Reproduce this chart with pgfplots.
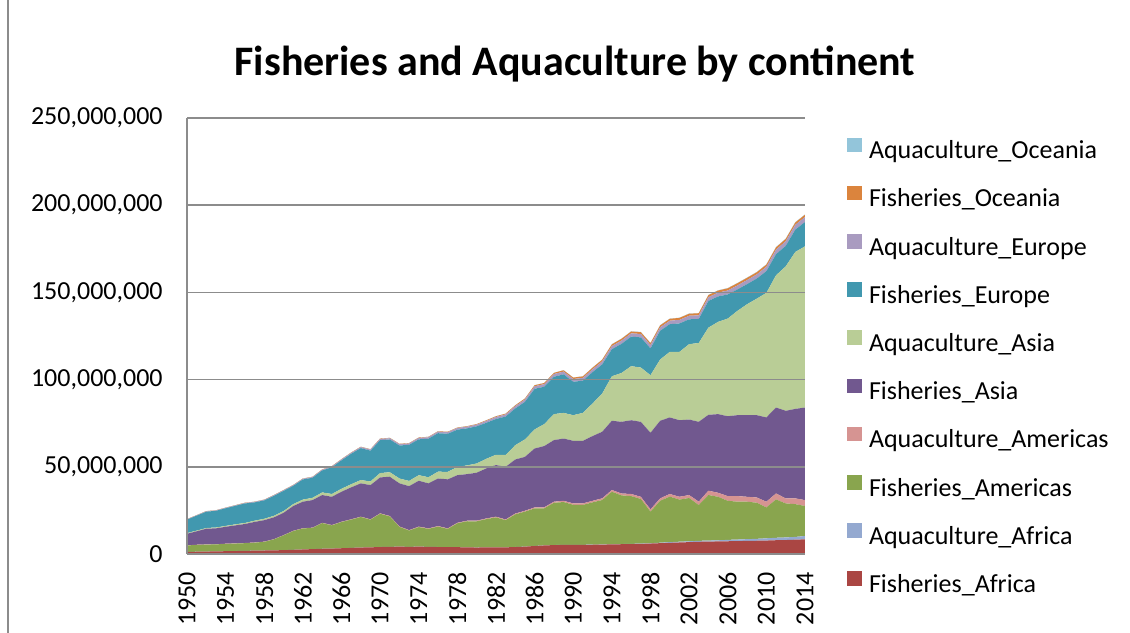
\documentclass[border=0pt]{standalone}
\usepackage{fontspec}
\setmainfont{Carlito}
\usepackage{pgfplots}
\pgfplotsset{compat=1.18}
\usepackage{pgfplotstable}

\definecolor{fafr}{HTML}{AA4643}
\definecolor{aafr}{HTML}{94A9D0}
\definecolor{famr}{HTML}{89A54E}
\definecolor{aamr}{HTML}{D69492}
\definecolor{fasi}{HTML}{71588F}
\definecolor{aasi}{HTML}{B9CD96}
\definecolor{feur}{HTML}{4198AF}
\definecolor{aeur}{HTML}{A99BC0}
\definecolor{foce}{HTML}{DB843D}
\definecolor{aoce}{HTML}{93C5DA}
\definecolor{gridgray}{HTML}{8C8C8C}

% values in millions of tonnes
\pgfplotstableread{
year FAf AAf FAm AAm FAs AAs FEu AEu FOc AOc
1950 1.20 0.01 3.69 0.10 6.60 0.40 7.69 0.20 0.10 0.01
1951 1.30 0.01 3.89 0.10 7.70 0.40 8.58 0.21 0.10 0.01
1952 1.40 0.01 3.99 0.10 9.00 0.40 9.37 0.22 0.10 0.01
1953 1.50 0.01 3.99 0.10 9.10 0.50 9.55 0.23 0.11 0.01
1954 1.60 0.01 4.19 0.10 9.70 0.50 10.14 0.24 0.11 0.01
1955 1.70 0.01 4.28 0.11 10.30 0.60 10.62 0.26 0.11 0.01
1956 1.80 0.01 4.38 0.11 10.90 0.60 11.19 0.28 0.12 0.01
1957 1.90 0.01 4.58 0.11 11.80 0.70 10.47 0.30 0.12 0.01
1958 2.00 0.01 4.97 0.12 12.30 0.80 10.54 0.32 0.13 0.01
1959 2.10 0.01 6.27 0.12 12.50 0.90 11.42 0.34 0.13 0.01
1960 2.20 0.01 8.46 0.13 12.80 1.00 11.59 0.36 0.14 0.01
1961 2.40 0.01 10.75 0.14 14.20 1.10 10.47 0.38 0.14 0.01
1962 2.60 0.01 12.04 0.15 15.20 1.20 11.54 0.40 0.15 0.01
1963 2.80 0.01 12.14 0.15 15.80 1.30 11.52 0.42 0.15 0.01
1964 3.00 0.01 14.73 0.16 15.90 1.50 12.58 0.45 0.16 0.01
1965 3.10 0.01 13.32 0.17 16.20 1.60 15.35 0.48 0.16 0.01
1966 3.30 0.01 15.01 0.18 17.20 1.70 16.30 0.52 0.17 0.01
1967 3.50 0.01 16.20 0.19 18.30 1.80 17.46 0.56 0.17 0.01
1968 3.70 0.01 17.49 0.20 19.10 1.90 18.31 0.60 0.18 0.01
1969 3.80 0.01 15.88 0.21 19.60 2.10 17.66 0.65 0.18 0.01
1970 4.00 0.01 19.06 0.23 20.60 2.50 18.90 0.70 0.19 0.01
1971 4.10 0.01 17.45 0.24 22.50 2.60 18.76 0.73 0.20 0.01
1972 4.20 0.01 11.34 0.25 24.70 2.80 18.93 0.76 0.20 0.01
1973 4.10 0.01 9.33 0.26 25.20 3.00 20.69 0.79 0.21 0.01
1974 4.20 0.01 11.22 0.27 26.30 3.20 20.55 0.82 0.22 0.01
1975 4.10 0.01 10.31 0.28 25.80 3.50 22.11 0.85 0.23 0.01
1976 4.00 0.01 11.70 0.29 27.30 3.90 22.07 0.88 0.24 0.01
1977 3.90 0.01 10.49 0.30 28.10 4.30 21.83 0.91 0.25 0.01
1978 3.90 0.01 13.68 0.31 27.30 4.70 21.39 0.94 0.26 0.01
1979 3.80 0.01 14.97 0.32 26.70 5.00 21.24 0.97 0.28 0.01
1980 3.70 0.01 15.04 0.35 27.50 5.30 21.29 1.00 0.30 0.01
1981 3.80 0.02 16.20 0.38 28.70 5.50 20.65 1.08 0.35 0.02
1982 3.80 0.02 17.18 0.40 29.60 5.90 20.52 1.16 0.40 0.02
1983 3.80 0.02 15.56 0.42 30.20 6.80 21.99 1.24 0.45 0.02
1984 4.00 0.02 18.73 0.45 31.00 8.20 21.06 1.32 0.50 0.02
1985 4.20 0.03 20.07 0.50 30.90 10.00 21.53 1.40 0.55 0.02
1986 4.60 0.03 21.52 0.55 33.80 10.90 23.32 1.45 0.60 0.03
1987 4.90 0.03 21.27 0.60 35.10 12.60 21.42 1.50 0.65 0.03
1988 5.10 0.04 24.21 0.65 35.30 14.90 21.42 1.55 0.70 0.03
1989 5.20 0.05 24.55 0.70 35.70 14.70 22.11 1.60 0.75 0.04
1990 5.20 0.06 22.94 0.80 35.90 14.70 19.15 1.60 0.80 0.05
1991 5.20 0.07 22.88 0.85 35.90 16.00 18.50 1.60 0.85 0.05
1992 5.30 0.08 24.22 0.90 37.10 18.70 17.99 1.65 0.90 0.06
1993 5.40 0.09 25.46 0.95 38.20 21.90 16.73 1.75 0.95 0.07
1994 5.50 0.10 30.10 1.00 39.70 25.50 15.52 1.80 1.00 0.08
1995 5.60 0.11 27.89 1.10 41.10 28.00 16.71 1.90 1.00 0.09
1996 5.70 0.13 27.37 1.20 42.30 31.00 16.95 1.90 1.05 0.10
1997 5.80 0.16 25.59 1.25 43.00 31.10 17.30 1.95 1.05 0.10
1998 6.00 0.20 18.10 1.30 43.90 33.00 15.40 1.95 1.05 0.10
1999 6.20 0.28 24.02 1.40 44.50 35.10 16.49 2.00 1.10 0.11
2000 6.40 0.40 26.10 1.50 43.90 37.60 15.88 2.00 1.10 0.12
2001 6.60 0.45 24.15 1.60 43.90 39.20 16.28 2.05 1.15 0.12
2002 6.80 0.50 24.80 1.70 43.30 43.20 14.27 2.05 1.15 0.13
2003 7.00 0.55 20.55 1.90 45.80 45.20 13.77 2.10 1.20 0.13
2004 7.10 0.60 26.10 2.50 43.50 50.00 15.31 2.15 1.20 0.14
2005 7.20 0.65 24.95 2.30 45.10 52.90 14.56 2.20 1.20 0.14
2006 7.30 0.80 22.40 2.70 45.80 56.00 13.85 2.25 1.25 0.15
2007 7.40 0.90 21.70 3.20 46.40 59.80 12.30 2.30 1.25 0.15
2008 7.50 1.00 21.50 2.80 46.80 63.60 11.54 2.35 1.25 0.16
2009 7.60 1.10 20.70 3.00 47.20 66.80 11.49 2.40 1.25 0.16
2010 7.70 1.30 17.70 3.30 48.30 71.40 12.48 2.50 1.25 0.17
2011 7.90 1.40 22.00 3.40 49.30 75.80 12.13 2.60 1.30 0.17
2012 8.00 1.50 19.50 2.90 50.20 82.80 11.73 2.70 1.30 0.17
2013 8.20 1.60 18.80 3.30 51.30 90.00 12.82 2.80 1.30 0.18
2014 8.40 1.90 17.20 3.40 53.10 92.40 13.92 2.90 1.30 0.18
}\fishdata

\begin{document}
\begin{tikzpicture}[x=1pt,y=1pt]
\useasboundingbox (0,0) rectangle (565,316);
\draw[gridgray, line width=0.7pt] (4,-2) -- (4,318);
\node[anchor=base, font=\bfseries\fontsize{21}{25}\selectfont] at (287.5,278) {Fisheries and Aquaculture by continent};
\begin{axis}[
  at={(93.5pt,39pt)}, anchor=south west,
  scale only axis, width=309pt, height=218pt,
  xmin=1950, xmax=2014, ymin=0, ymax=250,
  /pgf/number format/assume math mode=true,
  /pgf/number format/1000 sep={},
  xtick={1950,1954,...,2014},
  ytick={0,50,...,250},
  yticklabels={0,{50,000,000},{100,000,000},{150,000,000},{200,000,000},{250,000,000}},
  ticklabel style={font=\fontsize{13}{15}\selectfont},
  xticklabel style={yshift=-9pt, rotate=90, anchor=east, inner sep=0pt},
  yticklabel style={xshift=-12pt, anchor=east, inner sep=0pt},
  axis lines*=left,
  axis line style={draw=gridgray, line width=0.8pt},
  ymajorgrids,
  grid style={draw=gridgray, line width=0.8pt},
  tick style={draw=none},
  major tick length=0pt,
  stack plots=y,
  area style,
  legend image code/.code={\fill[#1] (0pt,0.3pt) rectangle (7.3pt,7.6pt);},
  reverse legend,
  legend cell align=left,
  legend style={at={(1.068,0.956)}, anchor=north west, draw=none, fill=none,
    inner sep=0pt, row sep=10.5pt, column sep=3.5pt,
    font=\fontsize{13}{15}\selectfont,
    nodes={inner sep=0pt, text height=9pt, text depth=3pt}},
]
\addplot[fill=fafr, draw=none] table[x=year, y=FAf]{\fishdata} \closedcycle;
\addlegendentry{Fisheries\_Africa}
\addplot[fill=aafr, draw=none] table[x=year, y=AAf]{\fishdata} \closedcycle;
\addlegendentry{Aquaculture\_Africa}
\addplot[fill=famr, draw=none] table[x=year, y=FAm]{\fishdata} \closedcycle;
\addlegendentry{Fisheries\_Americas}
\addplot[fill=aamr, draw=none] table[x=year, y=AAm]{\fishdata} \closedcycle;
\addlegendentry{Aquaculture\_Americas}
\addplot[fill=fasi, draw=none] table[x=year, y=FAs]{\fishdata} \closedcycle;
\addlegendentry{Fisheries\_Asia}
\addplot[fill=aasi, draw=none] table[x=year, y=AAs]{\fishdata} \closedcycle;
\addlegendentry{Aquaculture\_Asia}
\addplot[fill=feur, draw=none] table[x=year, y=FEu]{\fishdata} \closedcycle;
\addlegendentry{Fisheries\_Europe}
\addplot[fill=aeur, draw=none] table[x=year, y=AEu]{\fishdata} \closedcycle;
\addlegendentry{Aquaculture\_Europe}
\addplot[fill=foce, draw=none] table[x=year, y=FOc]{\fishdata} \closedcycle;
\addlegendentry{Fisheries\_Oceania}
\addplot[fill=aoce, draw=none] table[x=year, y=AOc]{\fishdata} \closedcycle;
\addlegendentry{Aquaculture\_Oceania}
\end{axis}
\end{tikzpicture}
\end{document}
